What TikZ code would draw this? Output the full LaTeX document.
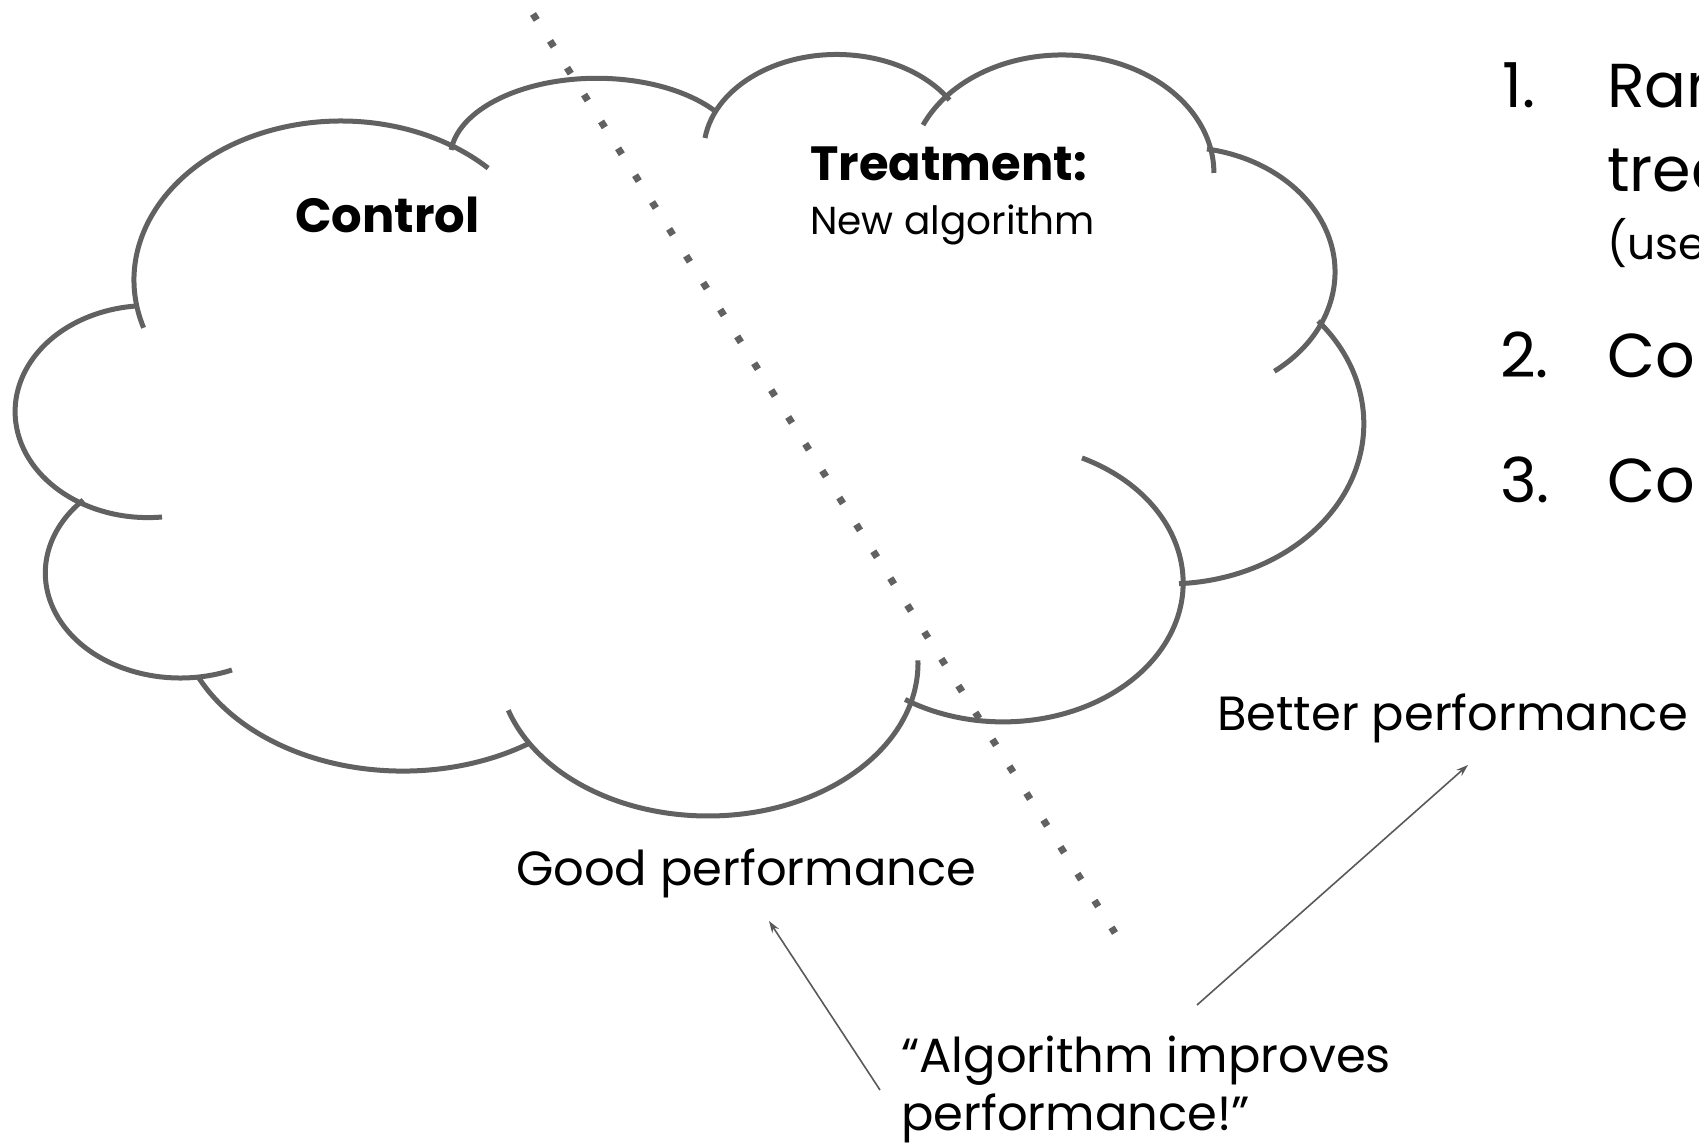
\documentclass[tikz,border=0pt]{standalone}
\usepackage{fontspec}
\setmainfont{Poppins}
\usetikzlibrary{arrows.meta}

\definecolor{cloudgray}{HTML}{616161}
\definecolor{arrowgray}{HTML}{595959}

\tikzstyle{lobe} = [draw=cloudgray, line width=5pt]
\tikzstyle{divider} = [draw=cloudgray, line width=7pt, dash pattern=on 7pt off 24.8pt]
\tikzstyle{pointer} = [draw=arrowgray, line width=1.6pt, -{Stealth[length=12pt, width=8pt]}]
\tikzstyle{heading} = [inner sep=0pt, anchor=base west, font=\fontsize{48}{58}\selectfont\bfseries]
\tikzstyle{subhead} = [inner sep=0pt, anchor=base west, font=\fontsize{39}{47}\selectfont]
\tikzstyle{caption} = [inner sep=0pt, anchor=base west, font=\fontsize{48}{58}\selectfont]
\tikzstyle{listtext} = [inner sep=0pt, anchor=base west, font=\fontsize{62}{74}\selectfont]
\tikzstyle{listsmall} = [inner sep=0pt, anchor=base west, font=\fontsize{44}{52}\selectfont]

\begin{document}
\begin{tikzpicture}[x=1pt, y=1pt]
        \useasboundingbox (0,0) rectangle (1699,1147);

        % Cloud, one elliptic arc per lobe (centre, radii, angles)
        \draw[lobe] ([shift={(197.5:207pt and 159pt)}]341,867) arc[start angle=197.5, end angle=44.7, x radius=207pt, y radius=159pt];
        \draw[lobe] ([shift={(174:146.5pt and 80pt)}]596.8,988.7) arc[start angle=174, end angle=35, x radius=146.5pt, y radius=80pt];
        \draw[lobe] ([shift={(172:133pt and 97pt)}]836.7,995.5) arc[start angle=172, end angle=32, x radius=133pt, y radius=97pt];
        \draw[lobe] ([shift={(156:152pt and 118pt)}]1061.9,974) arc[start angle=156, end angle=0, x radius=152pt, y radius=118pt];
        \draw[lobe] ([shift={(80:155pt and 125pt)}]1180,874.9) arc[start angle=80, end angle=-52.5, x radius=155pt, y radius=125pt];
        \draw[lobe] ([shift={(40:195pt and 160pt)}]1168.8,723.1) arc[start angle=40, end angle=-87, x radius=195pt, y radius=160pt];
        \draw[lobe] ([shift={(64:180pt and 139pt)}]1003.1,564.1) arc[start angle=64, end angle=-123, x radius=180pt, y radius=139pt];
        \draw[lobe] ([shift={(1:210pt and 153pt)}]708,484) arc[start angle=1, end angle=-162, x radius=210pt, y radius=153pt];
        \draw[lobe] ([shift={(304.4:225pt and 161pt)}]402.9,536.9) arc[start angle=304.4, end angle=204.6, x radius=225pt, y radius=161pt];
        \draw[lobe] ([shift={(292.5:135pt and 105pt)}]180.3,574) arc[start angle=292.5, end angle=136, x radius=135pt, y radius=105pt];
        \draw[lobe] ([shift={(276:133pt and 106pt)}]148.1,735.4) arc[start angle=276, end angle=94, x radius=133pt, y radius=106pt];

        % Split between the two groups
        \coordinate (splittop) at (533,1133);
        \coordinate (splitend) at (1115,214);
        \draw[divider] (splittop) -- (splitend);

        % Group labels
        \node[heading] (control) at (295,914) {Control};
        \node[heading] (treat) at (810,966) {Treatment:};
        \node[subhead] (newalg) at (810,912) {New algorithm};

        % Outcomes
        \node[caption] (good) at (516,261) {Good performance};
        \node[caption] (better) at (1217,416) {Better performance};
        \node[caption] (claim) at (901,74) {“Algorithm improves};
        \node[caption] (claimb) at ([yshift=-58pt]claim.base west) {performance!”};

        \coordinate (goodtip) at (769,226);
        \coordinate (bettertip) at (1468,382);
        \coordinate (claimleft) at (880,57);
        \coordinate (claimtop) at (1197,142);
        \draw[pointer] (claimleft) -- (goodtip);
        \draw[pointer] (claimtop) -- (bettertip);

        % Steps, cut by the right edge
        \node[listtext] (num1) at (1502,1039) {1.};
        \node[listtext] (step1) at (1607,1039) {Ran};
        \node[listtext] (step1b) at (1607,955) {trea};
        \node[listsmall] (step1c) at (1607,887) {(use};
        \node[listtext] (num2) at (1500,769) {2.};
        \node[listtext] (step2) at (1607,769) {Co};
        \node[listtext] (num3) at (1500,644) {3.};
        \node[listtext] (step3) at (1607,644) {Co};
\end{tikzpicture}
\end{document}
